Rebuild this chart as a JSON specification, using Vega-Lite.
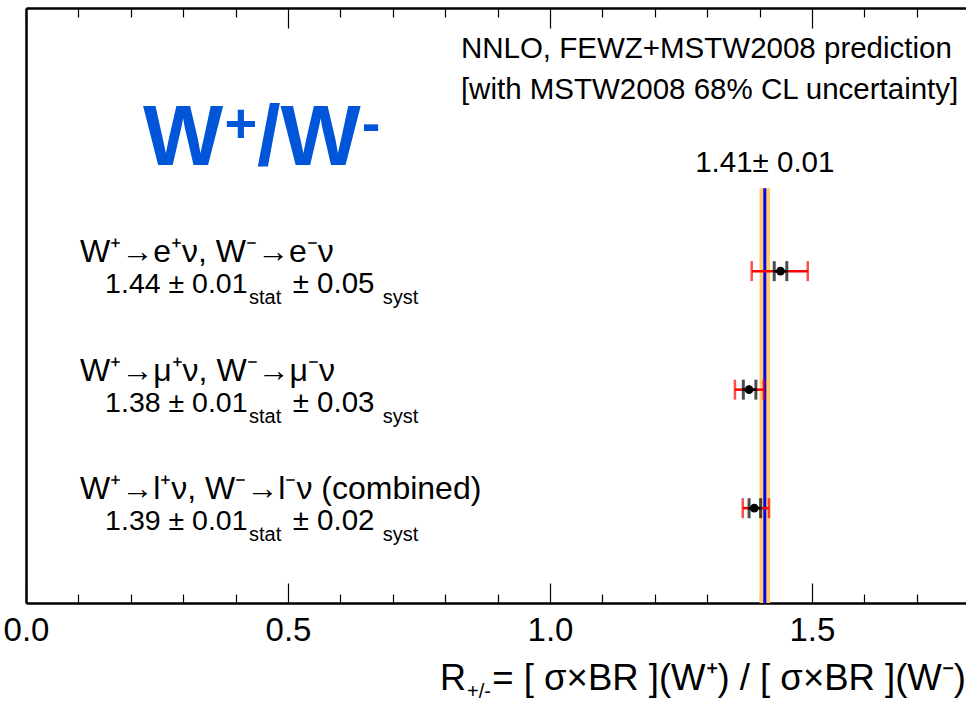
{
  "$schema": "https://vega.github.io/schema/vega-lite/v6.json",
  "width": 940,
  "height": 595,
  "autosize": {"type": "none"},
  "padding": {"left": 26, "top": 8, "right": 0, "bottom": 98},
  "background": "white",
  "config": {
    "view": {"stroke": null},
    "font": "Liberation Sans",
    "text": {"font": "Liberation Sans", "color": "black"}
  },
  "datasets": {
    "meas": [
      {"row": 3, "chan": "W⁺→e⁺ν, W⁻→e⁻ν", "value": 1.44, "stat_lo": 1.428, "stat_hi": 1.452, "tot_lo": 1.385, "tot_hi": 1.492, "txt": "1.44 ± 0.01", "syst": "± 0.05"},
      {"row": 2, "chan": "W⁺→μ⁺ν, W⁻→μ⁻ν", "value": 1.38, "stat_lo": 1.369, "stat_hi": 1.393, "tot_lo": 1.353, "tot_hi": 1.408, "txt": "1.38 ± 0.01", "syst": "± 0.03"},
      {"row": 1, "chan": "W⁺→l⁺ν, W⁻→l⁻ν (combined)", "value": 1.39, "stat_lo": 1.380, "stat_hi": 1.402, "tot_lo": 1.368, "tot_hi": 1.418, "txt": "1.39 ± 0.01", "syst": "± 0.02"}
    ],
    "pred": [
      {"center": 1.41, "lo": 1.40, "hi": 1.42, "label": "1.41± 0.01"}
    ]
  },
  "resolve": {"axis": {"x": "independent", "y": "independent"}},
  "layer": [
    {
      "data": {"name": "pred"},
      "mark": {"type": "rect", "color": "#FFCC66"},
      "encoding": {
        "x": {"field": "lo", "type": "quantitative", "scale": {"domain": [0, 1.794], "nice": false, "zero": false},
              "axis": {"orient": "bottom", "values": [0, 0.5, 1, 1.5], "format": ".1f", "tickSize": -20, "tickColor": "black", "tickWidth": 1.2, "domain": true, "domainColor": "black", "domainWidth": 2.5, "grid": false, "labelFontSize": 33, "labelColor": "black", "labelFont": "Liberation Sans", "labelPadding": 31, "labelFlush": false, "labelOverlap": false, "title": null}},
        "x2": {"field": "hi"},
        "y": {"datum": 3.70, "scale": {"domain": [0.2, 5.22], "nice": false, "zero": false},
              "axis": {"orient": "left", "domain": true, "domainColor": "black", "domainWidth": 2.5, "ticks": false, "labels": false, "grid": false, "title": null}},
        "y2": {"datum": 0.2}
      }
    },
    {
      "data": {"name": "pred"},
      "mark": {"type": "rule", "color": "#0000FF", "strokeWidth": 3},
      "encoding": {
        "x": {"field": "center", "type": "quantitative", "scale": {"domain": [0, 1.794], "nice": false, "zero": false},
              "axis": {"orient": "bottom", "values": [0.1, 0.2, 0.3, 0.4, 0.6, 0.7, 0.8, 0.9, 1.1, 1.2, 1.3, 1.4, 1.6, 1.7], "tickSize": -9, "tickColor": "black", "tickWidth": 1.2, "domain": false, "labels": false, "grid": false, "title": null}},
        "y": {"datum": 3.70, "scale": {"domain": [0.2, 5.22], "nice": false, "zero": false}, "axis": null},
        "y2": {"datum": 0.2}
      }
    },
    {
      "data": {"name": "meas"},
      "mark": {"type": "rule", "color": "#FF0000", "strokeWidth": 2.5},
      "encoding": {
        "x": {"field": "tot_lo", "type": "quantitative", "scale": {"domain": [0, 1.794], "nice": false, "zero": false},
              "axis": {"orient": "top", "values": [0, 0.5, 1, 1.5], "tickSize": -20, "tickColor": "black", "tickWidth": 1.2, "domain": true, "domainColor": "black", "domainWidth": 2.5, "labels": false, "grid": false, "title": null}},
        "x2": {"field": "tot_hi"},
        "y": {"field": "row", "type": "quantitative", "scale": {"domain": [0.2, 5.22], "nice": false, "zero": false}, "axis": null}
      }
    },
    {
      "data": {"name": "meas"},
      "transform": [{"fold": ["tot_lo", "tot_hi"], "as": ["end", "pos"]}],
      "mark": {"type": "tick", "orient": "vertical", "color": "#FF0000", "thickness": 2.5, "size": 20},
      "encoding": {
        "x": {"field": "pos", "type": "quantitative", "scale": {"domain": [0, 1.794], "nice": false, "zero": false},
              "axis": {"orient": "top", "values": [0.1, 0.2, 0.3, 0.4, 0.6, 0.7, 0.8, 0.9, 1.1, 1.2, 1.3, 1.4, 1.6, 1.7], "tickSize": -9, "tickColor": "black", "tickWidth": 1.2, "domain": false, "labels": false, "grid": false, "title": null}},
        "y": {"field": "row", "type": "quantitative", "scale": {"domain": [0.2, 5.22], "nice": false, "zero": false}, "axis": null}
      }
    },
    {
      "data": {"name": "meas"},
      "mark": {"type": "rule", "color": "black", "strokeWidth": 2.5},
      "encoding": {
        "x": {"field": "stat_lo", "type": "quantitative", "scale": {"domain": [0, 1.794], "nice": false, "zero": false}, "axis": null},
        "x2": {"field": "stat_hi"},
        "y": {"field": "row", "type": "quantitative", "scale": {"domain": [0.2, 5.22], "nice": false, "zero": false}, "axis": null}
      }
    },
    {
      "data": {"name": "meas"},
      "transform": [{"fold": ["stat_lo", "stat_hi"], "as": ["end", "pos"]}],
      "mark": {"type": "tick", "orient": "vertical", "color": "black", "thickness": 3, "size": 20},
      "encoding": {
        "x": {"field": "pos", "type": "quantitative", "scale": {"domain": [0, 1.794], "nice": false, "zero": false}, "axis": null},
        "y": {"field": "row", "type": "quantitative", "scale": {"domain": [0.2, 5.22], "nice": false, "zero": false}, "axis": null}
      }
    },
    {
      "data": {"name": "meas"},
      "mark": {"type": "point", "shape": "circle", "filled": true, "color": "black", "opacity": 1, "size": 75},
      "encoding": {
        "x": {"field": "value", "type": "quantitative", "scale": {"domain": [0, 1.794], "nice": false, "zero": false}, "axis": null},
        "y": {"field": "row", "type": "quantitative", "scale": {"domain": [0.2, 5.22], "nice": false, "zero": false}, "axis": null}
      }
    },
    {
      "data": {"name": "meas"},
      "mark": {"type": "text", "align": "left", "baseline": "alphabetic", "fontSize": 32, "dy": -9},
      "encoding": {
        "x": {"datum": 0.103, "scale": {"domain": [0, 1.794], "nice": false, "zero": false}, "axis": null},
        "y": {"field": "row", "type": "quantitative", "scale": {"domain": [0.2, 5.22], "nice": false, "zero": false}, "axis": null},
        "text": {"field": "chan"}
      }
    },
    {
      "data": {"name": "meas"},
      "mark": {"type": "text", "align": "left", "baseline": "alphabetic", "fontSize": 28.5, "dy": 22},
      "encoding": {
        "x": {"datum": 0.151, "scale": {"domain": [0, 1.794], "nice": false, "zero": false}, "axis": null},
        "y": {"field": "row", "type": "quantitative", "scale": {"domain": [0.2, 5.22], "nice": false, "zero": false}, "axis": null},
        "text": {"field": "txt"}
      }
    },
    {
      "data": {"name": "meas"},
      "mark": {"type": "text", "align": "left", "baseline": "alphabetic", "fontSize": 20, "dy": 33, "text": "stat"},
      "encoding": {
        "x": {"datum": 0.4256, "scale": {"domain": [0, 1.794], "nice": false, "zero": false}, "axis": null},
        "y": {"field": "row", "type": "quantitative", "scale": {"domain": [0.2, 5.22], "nice": false, "zero": false}, "axis": null}
      }
    },
    {
      "data": {"name": "meas"},
      "mark": {"type": "text", "align": "left", "baseline": "alphabetic", "fontSize": 29.5, "dy": 22},
      "encoding": {
        "x": {"datum": 0.509, "scale": {"domain": [0, 1.794], "nice": false, "zero": false}, "axis": null},
        "y": {"field": "row", "type": "quantitative", "scale": {"domain": [0.2, 5.22], "nice": false, "zero": false}, "axis": null},
        "text": {"field": "syst"}
      }
    },
    {
      "data": {"name": "meas"},
      "mark": {"type": "text", "align": "left", "baseline": "alphabetic", "fontSize": 20, "dy": 33, "text": "syst"},
      "encoding": {
        "x": {"datum": 0.681, "scale": {"domain": [0, 1.794], "nice": false, "zero": false}, "axis": null},
        "y": {"field": "row", "type": "quantitative", "scale": {"domain": [0.2, 5.22], "nice": false, "zero": false}, "axis": null}
      }
    },
    {
      "data": {"name": "pred"},
      "mark": {"type": "text", "align": "center", "baseline": "alphabetic", "fontSize": 29.5},
      "encoding": {
        "x": {"field": "center", "type": "quantitative", "scale": {"domain": [0, 1.794], "nice": false, "zero": false}, "axis": null},
        "y": {"datum": 3.836, "scale": {"domain": [0.2, 5.22], "nice": false, "zero": false}, "axis": null},
        "text": {"field": "label"}
      }
    },
    {
      "data": {"values": [{}]},
      "mark": {"type": "text", "align": "left", "baseline": "alphabetic", "fontSize": 29.5, "text": "NNLO, FEWZ+MSTW2008 prediction"},
      "encoding": {
        "x": {"datum": 0.830, "scale": {"domain": [0, 1.794], "nice": false, "zero": false}, "axis": null},
        "y": {"datum": 4.80, "scale": {"domain": [0.2, 5.22], "nice": false, "zero": false}, "axis": null}
      }
    },
    {
      "data": {"values": [{}]},
      "mark": {"type": "text", "align": "left", "baseline": "alphabetic", "fontSize": 29.5, "text": "[with MSTW2008 68% CL uncertainty]"},
      "encoding": {
        "x": {"datum": 0.830, "scale": {"domain": [0, 1.794], "nice": false, "zero": false}, "axis": null},
        "y": {"datum": 4.45, "scale": {"domain": [0.2, 5.22], "nice": false, "zero": false}, "axis": null}
      }
    },
    {
      "data": {"values": [{}]},
      "mark": {"type": "text", "align": "left", "baseline": "alphabetic", "fontSize": 85, "fontWeight": "bold", "color": "#0055D9", "text": "W"},
      "encoding": {
        "x": {"datum": 0.2233, "scale": {"domain": [0, 1.794], "nice": false, "zero": false}, "axis": null},
        "y": {"datum": 3.895, "scale": {"domain": [0.2, 5.22], "nice": false, "zero": false}, "axis": null}
      }
    },
    {
      "data": {"values": [{}]},
      "mark": {"type": "text", "align": "center", "baseline": "alphabetic", "fontSize": 56, "fontWeight": "bold", "color": "#0055D9", "text": "+"},
      "encoding": {
        "x": {"datum": 0.410, "scale": {"domain": [0, 1.794], "nice": false, "zero": false}, "axis": null},
        "y": {"datum": 4.089, "scale": {"domain": [0.2, 5.22], "nice": false, "zero": false}, "axis": null}
      }
    },
    {
      "data": {"values": [{}]},
      "mark": {"type": "text", "align": "left", "baseline": "alphabetic", "fontSize": 85, "fontWeight": "bold", "color": "#0055D9", "text": "/W"},
      "encoding": {
        "x": {"datum": 0.4408, "scale": {"domain": [0, 1.794], "nice": false, "zero": false}, "axis": null},
        "y": {"datum": 3.895, "scale": {"domain": [0.2, 5.22], "nice": false, "zero": false}, "axis": null}
      }
    },
    {
      "data": {"values": [{}]},
      "mark": {"type": "text", "align": "left", "baseline": "alphabetic", "fontSize": 56, "fontWeight": "bold", "color": "#0055D9", "text": "-"},
      "encoding": {
        "x": {"datum": 0.641, "scale": {"domain": [0, 1.794], "nice": false, "zero": false}, "axis": null},
        "y": {"datum": 4.089, "scale": {"domain": [0.2, 5.22], "nice": false, "zero": false}, "axis": null}
      }
    },
    {
      "data": {"values": [{}]},
      "mark": {"type": "text", "align": "left", "baseline": "alphabetic", "fontSize": 36, "text": "R"},
      "encoding": {
        "x": {"datum": 0.790, "scale": {"domain": [0, 1.794], "nice": false, "zero": false}, "axis": null},
        "y": {"datum": -0.535, "scale": {"domain": [0.2, 5.22], "nice": false, "zero": false}, "axis": null}
      }
    },
    {
      "data": {"values": [{}]},
      "mark": {"type": "text", "align": "left", "baseline": "alphabetic", "fontSize": 20, "text": "+/-"},
      "encoding": {
        "x": {"datum": 0.8416, "scale": {"domain": [0, 1.794], "nice": false, "zero": false}, "axis": null},
        "y": {"datum": -0.60, "scale": {"domain": [0.2, 5.22], "nice": false, "zero": false}, "axis": null}
      }
    },
    {
      "data": {"values": [{}]},
      "mark": {"type": "text", "align": "left", "baseline": "alphabetic", "fontSize": 36.5, "text": " = [ σ×BR ](W⁺) / [ σ×BR ](W⁻)"},
      "encoding": {
        "x": {"datum": 0.890, "scale": {"domain": [0, 1.794], "nice": false, "zero": false}, "axis": null},
        "y": {"datum": -0.535, "scale": {"domain": [0.2, 5.22], "nice": false, "zero": false}, "axis": null}
      }
    }
  ]
}
